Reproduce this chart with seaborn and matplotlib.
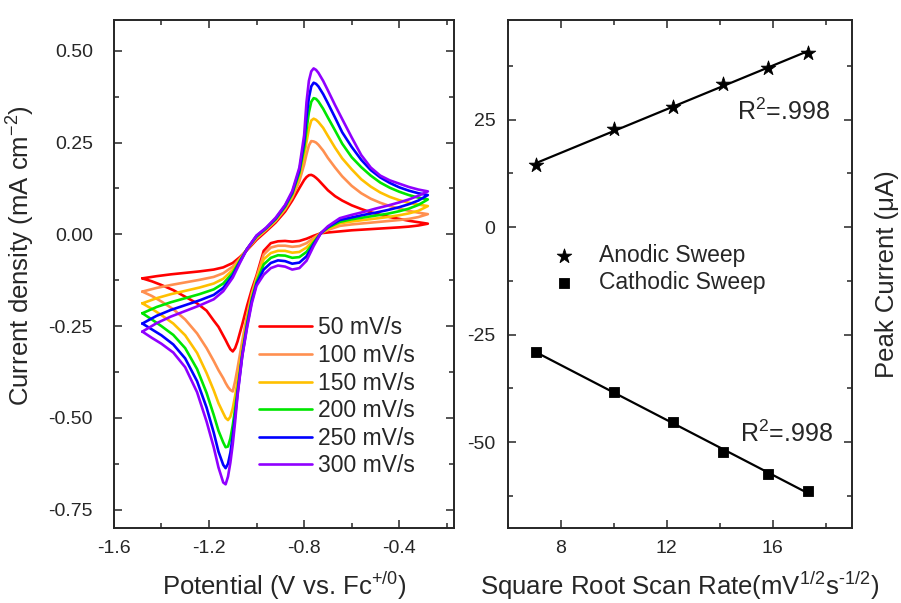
"""plot.py — cyclic voltammograms at several scan rates and Randles-Sevcik peak-current plot."""

import matplotlib
matplotlib.use("Agg")
import matplotlib.pyplot as plt
from matplotlib.ticker import MultipleLocator, FormatStrFormatter
import pandas as pd
import seaborn as sns

# ---------------------------------------------------------------- data
scan_rates = ["50 mV/s", "100 mV/s", "150 mV/s", "200 mV/s", "250 mV/s", "300 mV/s"]
rate_colors = ["#FF0000", "#FF9050", "#FFC000", "#00E600", "#0000FF", "#9000FF"]

# forward (anodic) sweep, -1.48 V -> -0.28 V
e_fwd = [-1.48, -1.42, -1.36, -1.30, -1.24, -1.18, -1.14, -1.10, -1.07, -1.04,
         -1.00, -0.96, -0.92, -0.88, -0.85, -0.82, -0.80, -0.79, -0.78, -0.77,
         -0.76, -0.75, -0.74, -0.72, -0.70, -0.67, -0.64, -0.60, -0.56, -0.52,
         -0.48, -0.44, -0.40, -0.36, -0.32, -0.28]
j_fwd_50 = [-0.120, -0.114, -0.109, -0.105, -0.101, -0.096, -0.090, -0.078, -0.062, -0.043,
            -0.015, 0.008, 0.032, 0.062, 0.092, 0.126, 0.148, 0.156, 0.161, 0.162,
            0.159, 0.154, 0.148, 0.134, 0.120, 0.104, 0.092, 0.079, 0.069, 0.060,
            0.053, 0.047, 0.042, 0.037, 0.033, 0.029]
j_fwd_100 = [-0.156, -0.146, -0.138, -0.131, -0.124, -0.116, -0.106, -0.088, -0.066, -0.041,
             -0.011, 0.012, 0.036, 0.068, 0.100, 0.145, 0.190, 0.218, 0.242, 0.254,
             0.253, 0.250, 0.244, 0.228, 0.208, 0.182, 0.158, 0.132, 0.112, 0.097,
             0.086, 0.077, 0.070, 0.064, 0.059, 0.055]
j_fwd_150 = [-0.188, -0.174, -0.163, -0.154, -0.145, -0.134, -0.121, -0.097, -0.069, -0.040,
             -0.008, 0.014, 0.039, 0.072, 0.106, 0.158, 0.215, 0.252, 0.287, 0.310,
             0.315, 0.312, 0.306, 0.290, 0.268, 0.236, 0.207, 0.177, 0.150, 0.130,
             0.114, 0.102, 0.093, 0.086, 0.081, 0.077]
j_fwd_200 = [-0.215, -0.198, -0.185, -0.174, -0.163, -0.150, -0.134, -0.105, -0.072, -0.040,
             -0.006, 0.016, 0.041, 0.075, 0.110, 0.168, 0.235, 0.285, 0.332, 0.361,
             0.371, 0.369, 0.362, 0.342, 0.318, 0.283, 0.247, 0.210, 0.183, 0.160,
             0.141, 0.127, 0.116, 0.107, 0.100, 0.095]
j_fwd_250 = [-0.243, -0.222, -0.206, -0.193, -0.180, -0.165, -0.146, -0.112, -0.075, -0.040,
             -0.004, 0.017, 0.043, 0.078, 0.114, 0.175, 0.252, 0.320, 0.372, 0.403,
             0.413, 0.410, 0.403, 0.382, 0.357, 0.318, 0.278, 0.238, 0.203, 0.175,
             0.155, 0.140, 0.128, 0.119, 0.112, 0.107]
j_fwd_300 = [-0.265, -0.242, -0.224, -0.209, -0.194, -0.177, -0.155, -0.118, -0.078, -0.040,
             -0.003, 0.018, 0.045, 0.080, 0.118, 0.182, 0.270, 0.360, 0.418, 0.444,
             0.452, 0.448, 0.440, 0.418, 0.392, 0.352, 0.314, 0.264, 0.216, 0.182,
             0.160, 0.147, 0.138, 0.129, 0.122, 0.117]

# reverse (cathodic) sweep, -0.28 V -> -1.48 V
e_rev = [-0.28, -0.32, -0.36, -0.40, -0.45, -0.50, -0.55, -0.60, -0.65, -0.70,
         -0.73, -0.76, -0.79, -0.82, -0.85, -0.88, -0.91, -0.94, -0.97, -1.00,
         -1.02, -1.04, -1.06, -1.08, -1.09, -1.10, -1.11, -1.12, -1.13, -1.14,
         -1.16, -1.18, -1.21, -1.25, -1.30, -1.35, -1.40, -1.44, -1.48]
j_rev_50 = [0.029, 0.024, 0.021, 0.019, 0.017, 0.015, 0.013, 0.011, 0.008, 0.005,
            0.003, -0.004, -0.012, -0.018, -0.020, -0.018, -0.019, -0.024, -0.045, -0.112,
            -0.150, -0.195, -0.245, -0.292, -0.310, -0.319, -0.313, -0.301, -0.288, -0.276,
            -0.252, -0.235, -0.208, -0.188, -0.170, -0.152, -0.138, -0.128, -0.120]
j_rev_100 = [0.055, 0.047, 0.042, 0.039, 0.036, 0.033, 0.030, 0.027, 0.023, 0.012,
             0.003, -0.010, -0.024, -0.032, -0.034, -0.031, -0.031, -0.036, -0.055, -0.118,
             -0.162, -0.220, -0.290, -0.365, -0.400, -0.428, -0.424, -0.416, -0.405, -0.392,
             -0.370, -0.345, -0.310, -0.270, -0.232, -0.204, -0.183, -0.168, -0.156]
j_rev_150 = [0.077, 0.064, 0.057, 0.052, 0.047, 0.043, 0.039, 0.035, 0.030, 0.015,
             0.003, -0.016, -0.036, -0.048, -0.050, -0.045, -0.045, -0.051, -0.068, -0.124,
             -0.170, -0.232, -0.312, -0.400, -0.440, -0.474, -0.497, -0.506, -0.500, -0.487,
             -0.460, -0.425, -0.378, -0.323, -0.275, -0.243, -0.220, -0.203, -0.188]
j_rev_200 = [0.095, 0.080, 0.070, 0.063, 0.056, 0.051, 0.046, 0.041, 0.034, 0.018,
             0.003, -0.022, -0.048, -0.062, -0.064, -0.058, -0.057, -0.064, -0.082, -0.130,
             -0.176, -0.242, -0.325, -0.425, -0.475, -0.520, -0.556, -0.578, -0.580, -0.567,
             -0.535, -0.492, -0.432, -0.367, -0.310, -0.274, -0.250, -0.232, -0.215]
j_rev_250 = [0.107, 0.092, 0.082, 0.074, 0.066, 0.059, 0.053, 0.046, 0.039, 0.020,
             0.003, -0.027, -0.060, -0.077, -0.080, -0.073, -0.071, -0.078, -0.096, -0.135,
             -0.182, -0.250, -0.330, -0.435, -0.495, -0.550, -0.595, -0.625, -0.637, -0.628,
             -0.592, -0.540, -0.472, -0.400, -0.338, -0.300, -0.275, -0.259, -0.243]
j_rev_300 = [0.117, 0.105, 0.095, 0.087, 0.078, 0.070, 0.061, 0.053, 0.044, 0.022,
             0.003, -0.032, -0.072, -0.092, -0.096, -0.088, -0.085, -0.092, -0.110, -0.140,
             -0.188, -0.255, -0.332, -0.440, -0.510, -0.572, -0.622, -0.660, -0.681, -0.676,
             -0.635, -0.580, -0.510, -0.430, -0.362, -0.322, -0.298, -0.282, -0.265]

# peak currents vs square root of scan rate
sqrt_rate = [7.07, 10.00, 12.25, 14.14, 15.81, 17.32]
i_anodic = [14.5, 22.8, 28.0, 33.3, 37.1, 40.5]
i_cathodic = [-29.1, -38.4, -45.4, -52.3, -57.4, -61.3]
r2_anodic = ".998"
r2_cathodic = ".998"

# ---------------------------------------------------------------- style
sns.set_theme(style="ticks", rc={
    "axes.linewidth": 1.4,
    "xtick.major.width": 1.1, "ytick.major.width": 1.1,
    "xtick.minor.width": 1.1, "ytick.minor.width": 1.1,
    "xtick.major.size": 6, "ytick.major.size": 6,
    "xtick.minor.size": 3.5, "ytick.minor.size": 3.5,
    "axes.unicode_minus": False,
    "mathtext.fontset": "custom",
    "mathtext.rm": "Liberation Sans",
    "mathtext.it": "Liberation Sans:italic",
    "mathtext.bf": "Liberation Sans:bold",
})
plt.rcParams["font.family"] = ["Liberation Sans", "DejaVu Sans"]

TICK_FS = 14
LABEL_FS = 18.5
LEGEND_FS = 16.5

fig = plt.figure(figsize=(9.01, 6.03), dpi=100)
ax_cv = fig.add_axes([0.1263, 0.1244, 0.3776, 0.8425])
ax_pk = fig.add_axes([0.5638, 0.1244, 0.3818, 0.8425])

# ---------------------------------------------------------------- CV panel
j_fwd = [j_fwd_50, j_fwd_100, j_fwd_150, j_fwd_200, j_fwd_250, j_fwd_300]
j_rev = [j_rev_50, j_rev_100, j_rev_150, j_rev_200, j_rev_250, j_rev_300]
frames = []
for rate, jf, jr in zip(scan_rates, j_fwd, j_rev):
    frames.append(pd.DataFrame({"E": e_fwd + e_rev, "j": jf + jr, "rate": rate}))
cv = pd.concat(frames, ignore_index=True)

sns.lineplot(data=cv, x="E", y="j", hue="rate", hue_order=scan_rates,
             palette=rate_colors, sort=False, estimator=None, lw=1.9,
             solid_joinstyle="round", ax=ax_cv)

handles, labels = ax_cv.get_legend_handles_labels()
ax_cv.legend(handles, labels, loc="center left", bbox_to_anchor=(0.428, 0.258),
             frameon=False, fontsize=LEGEND_FS, handlelength=2.3,
             handletextpad=0.25, labelspacing=0.2, borderpad=0, borderaxespad=0)

ax_cv.set_xlim(-1.6, -0.17)
ax_cv.set_ylim(-0.80, 0.584)
ax_cv.xaxis.set_major_locator(MultipleLocator(0.4))
ax_cv.xaxis.set_minor_locator(MultipleLocator(0.2))
ax_cv.yaxis.set_major_locator(MultipleLocator(0.25))
ax_cv.yaxis.set_minor_locator(MultipleLocator(0.125))
ax_cv.xaxis.set_major_formatter(FormatStrFormatter("%.1f"))
ax_cv.yaxis.set_major_formatter(FormatStrFormatter("%.2f"))
ax_cv.tick_params(which="both", direction="in", top=True, right=True)
ax_cv.tick_params(axis="x", labelsize=TICK_FS, pad=9)
ax_cv.tick_params(axis="y", labelsize=TICK_FS, pad=15)
ax_cv.set_xlabel(r"Potential (V vs. Fc$^{\mathrm{+/0}}$)", fontsize=LABEL_FS)
ax_cv.set_ylabel(r"Current density (mA cm$^{-2}$)", fontsize=LABEL_FS)
ax_cv.xaxis.set_label_coords(0.5, -0.082)
ax_cv.yaxis.set_label_coords(-0.225, 0.537)

# ---------------------------------------------------------------- peak current panel
line_kws = {"lw": 1.6, "color": "black"}
sns.regplot(x=sqrt_rate, y=i_anodic, ci=None, scatter=False, truncate=True,
            line_kws=line_kws, ax=ax_pk)
sns.regplot(x=sqrt_rate, y=i_cathodic, ci=None, scatter=False, truncate=True,
            line_kws=line_kws, ax=ax_pk)
sns.scatterplot(x=sqrt_rate, y=i_anodic, marker="*", s=120, color="black",
                edgecolor="black", linewidth=0.6, label="Anodic Sweep",
                zorder=4, ax=ax_pk)
sns.scatterplot(x=sqrt_rate, y=i_cathodic, marker="s", s=58, color="black",
                edgecolor="black", linewidth=0.6, label="Cathodic Sweep",
                zorder=4, ax=ax_pk)

ax_pk.legend(loc="center left", bbox_to_anchor=(0.11, 0.51), frameon=False,
             fontsize=LEGEND_FS, handlelength=1.6, handletextpad=0.7,
             labelspacing=0.2, borderpad=0, borderaxespad=0)

ax_pk.text(0.666, 0.803, r"R$^{2}$=" + r2_anodic, transform=ax_pk.transAxes,
           fontsize=18, va="baseline", ha="left")
ax_pk.text(0.674, 0.170, r"R$^{2}$=" + r2_cathodic, transform=ax_pk.transAxes,
           fontsize=18, va="baseline", ha="left")

ax_pk.set_xlim(6, 19)
ax_pk.set_ylim(-70, 48.2)
ax_pk.xaxis.set_major_locator(MultipleLocator(4))
ax_pk.xaxis.set_minor_locator(MultipleLocator(2))
ax_pk.yaxis.set_major_locator(MultipleLocator(25))
ax_pk.yaxis.set_minor_locator(MultipleLocator(12.5))
ax_pk.tick_params(which="both", direction="in", top=True, right=True,
                  labelright=False)
ax_pk.tick_params(axis="x", labelsize=TICK_FS, pad=9)
ax_pk.tick_params(axis="y", labelsize=TICK_FS, pad=9)
ax_pk.set_xlabel(r"Square Root Scan Rate(mV$^{\mathrm{1/2}}$s$^{\text{-1/2}}$)",
                 fontsize=LABEL_FS)
ax_pk.yaxis.set_label_position("right")
ax_pk.set_ylabel("Peak Current (\u03bcA)", fontsize=LABEL_FS)
ax_pk.xaxis.set_label_coords(0.5, -0.082)
ax_pk.yaxis.set_label_coords(1.067, 0.5)

fig.savefig("out.png", dpi=100)
plt.close(fig)
